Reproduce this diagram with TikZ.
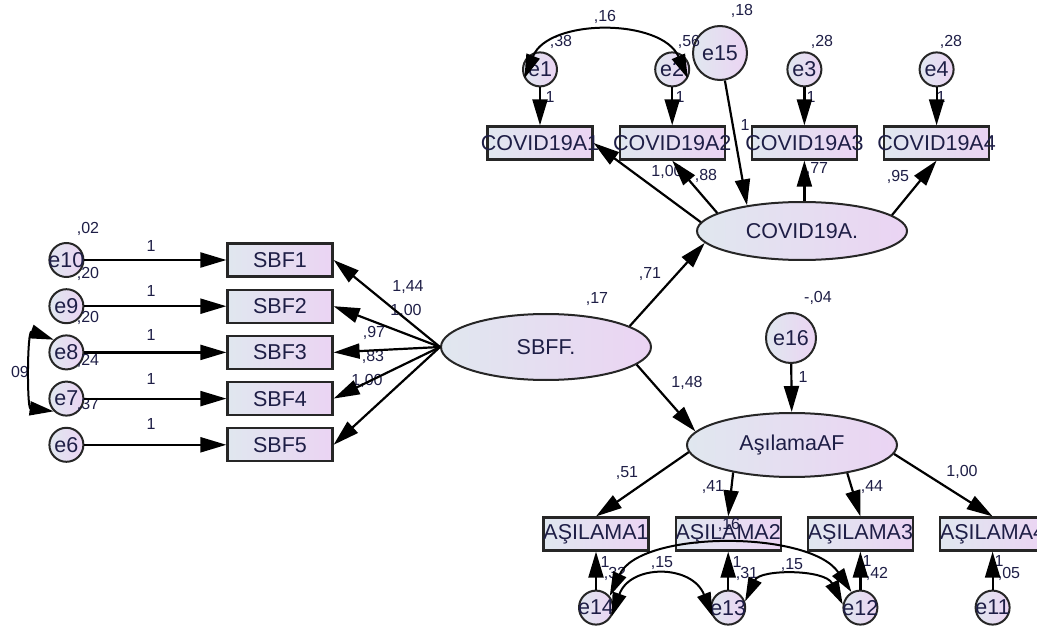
\documentclass[tikz,border=0pt]{standalone}
\usepackage{fontspec}
\setmainfont{Liberation Sans}
\usetikzlibrary{positioning,shapes.geometric,arrows.meta}

\definecolor{gradl}{RGB}{224,231,239}
\definecolor{gradr}{RGB}{235,212,243}
\definecolor{ink}{RGB}{30,30,70}
\newcommand{\semfont}{\fontsize{21.5}{24}\selectfont}
\newcommand{\estfont}{\fontsize{16}{18}\selectfont}
\newcommand{\ctr}[1]{\makebox[0pt]{#1}}

\begin{document}
\begin{tikzpicture}[x=1pt, y=-1pt,
    obs/.style={rectangle, draw=black!85, line width=2.2pt, left color=gradl, right color=gradr,
        minimum width=105pt, minimum height=33pt, inner sep=0pt, text=ink, font=\semfont},
    lat/.style={ellipse, draw=black!85, line width=2pt, left color=gradl, right color=gradr,
        minimum width=210pt, inner sep=0pt, text=ink, font=\semfont},
    err/.style={circle, draw=black!85, line width=2pt, left color=gradl, right color=gradr,
        minimum size=34pt, inner sep=0pt, text=ink, font=\semfont},
    est/.style={inner sep=0pt, text=ink, font=\estfont},
    reg/.style={-{Triangle[length=26pt,width=15pt]}, line width=2.2pt},
    cor/.style={{Triangle[length=24pt,width=14pt]}-{Triangle[length=24pt,width=14pt]}, line width=2pt}
]
    \useasboundingbox (0,0) rectangle (1037,631);

    % Latent variables
    \node[lat, minimum height=66pt] (sbff) at (546,347) {SBFF.};
    \node[lat, minimum height=58pt] (covid) at (802,231) {COVID19A.};
    \node[lat, minimum height=64pt] (asil) at (792,445) {AşılamaAF};

    % COVID19A indicators
    \node[obs] (cv1) at (540,143) {\ctr{COVID19A1}};
    \node[obs, right=25pt of cv1] (cv2) {\ctr{COVID19A2}};
    \node[obs, right=25pt of cv2] (cv3) {\ctr{COVID19A3}};
    \node[obs, right=25pt of cv3] (cv4) {\ctr{COVID19A4}};

    \node[err, above=38pt of cv1] (e1) {e1};
    \node[err, above=38pt of cv2] (e2) {e2};
    \node[err, above=38pt of cv3] (e3) {e3};
    \node[err, above=38pt of cv4] (e4) {e4};
    \node[err, minimum size=54pt] (e15) at (720,53) {\ctr{e15}};

    % SBFF indicators
    \node[obs] (sbf1) at (280,260) {SBF1};
    \node[obs, below=11pt of sbf1] (sbf2) {SBF2};
    \node[obs, below=11pt of sbf2] (sbf3) {SBF3};
    \node[obs, below=11pt of sbf3] (sbf4) {SBF4};
    \node[obs, below=11pt of sbf4] (sbf5) {SBF5};

    \node[err, left=142pt of sbf1] (e10) {\ctr{e10}};
    \node[err, left=142pt of sbf2] (e9) {e9};
    \node[err, left=142pt of sbf3] (e8) {e8};
    \node[err, left=142pt of sbf4] (e7) {e7};
    \node[err, left=142pt of sbf5] (e6) {e6};

    % AsilamaAF indicators
    \node[obs] (as1) at (596,534) {\ctr{AŞILAMA1}};
    \node[obs, right=25pt of as1] (as2) {\ctr{AŞILAMA2}};
    \node[obs, right=25pt of as2] (as3) {\ctr{AŞILAMA3}};
    \node[obs, right=25pt of as3] (as4) {\ctr{AŞILAMA4}};

    \node[err, below=38pt of as1] (e14) {\ctr{e14}};
    \node[err, below=38pt of as2] (e13) {\ctr{e13}};
    \node[err, below=38pt of as3] (e12) {\ctr{e12}};
    \node[err, below=38pt of as4] (e11) {\ctr{e11}};
    \node[err, minimum size=50pt] (e16) at (791,338) {\ctr{e16}};

    % Estimates, COVID19A part
    \node[est] (ve1) at (561,42) {,38};
    \node[est] (ve2) at (689,42) {,56};
    \node[est] (ve3) at (822,42) {,28};
    \node[est] (ve4) at (951,42) {,28};
    \node[est] (ve15) at (742,11) {,18};
    \node[est] (ce12) at (605,17) {,16};
    \node[est] (w1) at (550,97) {1};
    \node[est] (w2) at (680,97) {1};
    \node[est] (w3) at (811,97) {1};
    \node[est] (w4) at (941,97) {1};
    \node[est] (w15) at (745,125) {1};
    \node[est] (lcv1) at (667,172) {1,00};
    \node[est] (lcv2) at (706,176) {,88};
    \node[est] (lcv3) at (817,169) {,77};
    \node[est] (lcv4) at (898,177) {,95};

    % Estimates, SBFF part
    \node[est] (vsbff) at (597,299) {,17};
    \node[est] (lcov) at (650,274) {,71};
    \node[est] (lasil) at (687,383) {1,48};
    \node[est] (ve10) at (88,229) {,02};
    \node[est] (ve9) at (88,274) {,20};
    \node[est] (ve8) at (88,318) {,20};
    \node[est] (ve7) at (88,361) {,24};
    \node[est] (ve6) at (88,405) {,37};
    \node[est] (w10) at (151,246) {1};
    \node[est] (w9) at (151,291) {1};
    \node[est] (w8) at (151,335) {1};
    \node[est] (w7) at (151,379) {1};
    \node[est] (w6) at (151,424) {1};
    \node[est] (ce78) at (20,372) {09};
    \node[est] (lsbf1) at (408,287) {1,44};
    \node[est] (lsbf2) at (406,311) {1,00};
    \node[est] (lsbf3) at (374,333) {,97};
    \node[est] (lsbf4) at (373,357) {,83};
    \node[est] (lsbf5) at (367,381) {1,00};

    % Estimates, AsilamaAF part
    \node[est] (ve16) at (818,298) {-,04};
    \node[est] (w16) at (803,377) {1};
    \node[est] (las1) at (627,473) {,51};
    \node[est] (las2) at (713,487) {,41};
    \node[est] (las3) at (872,487) {,44};
    \node[est] (las4) at (962,472) {1,00};
    \node[est] (w14) at (605,562) {1};
    \node[est] (w13) at (737,562) {1};
    \node[est] (w12) at (867,561) {1};
    \node[est] (w11) at (999,561) {1};
    \node[est] (ve14) at (615,574) {,32};
    \node[est] (ve13) at (747,574) {,31};
    \node[est] (ve12) at (877,574) {,42};
    \node[est] (ve11) at (1009,574) {,05};
    \node[est] (ce1413) at (662,563) {,15};
    \node[est] (ce1312) at (792,565) {,15};
    \node[est] (ce1412) at (729,525) {,16};

    % Paths
    \draw[reg] (e1) -- (cv1);
    \draw[reg] (e2) -- (cv2);
    \draw[reg] (e3) -- (cv3);
    \draw[reg] (e4) -- (cv4);
    \draw[reg] (e15) -- (covid.155);
    \draw[reg] (covid.175) -- (cv1.east);
    \draw[reg] (covid.168) -- (cv2.south);
    \draw[reg] (cv3.south |- covid.north) -- (cv3.south);
    \draw[reg] (covid.10) -- (cv4.south);

    \draw[reg] (e10) -- (sbf1);
    \draw[reg] (e9) -- (sbf2);
    \draw[reg] (e8) -- (sbf3);
    \draw[reg] (e7) -- (sbf4);
    \draw[reg] (e6) -- (sbf5);
    \draw[reg] (sbff.west) -- (sbf1.east);
    \draw[reg] (sbff.west) -- (sbf2.east);
    \draw[reg] (sbff.west) -- (sbf3.east);
    \draw[reg] (sbff.west) -- (sbf4.east);
    \draw[reg] (sbff.west) -- (sbf5.east);
    \draw[reg] (sbff.14) -- (covid.187);
    \draw[reg] (sbff.-11) -- (asil.172);

    \draw[reg] (e16) -- (asil);
    \draw[reg] (asil.184) -- (as1.north);
    \draw[reg] (asil.205) -- (as2.north);
    \draw[reg] (asil.-27) -- (as3.north);
    \draw[reg] (asil.-5) -- (as4.north);
    \draw[reg] (e14) -- (as1);
    \draw[reg] (e13) -- (as2);
    \draw[reg] (e12) -- (as3);
    \draw[reg] (e11) -- (as4);

    % Covariances
    \draw[cor] (e1.210) .. controls (548,18) and (662,18) .. (e2.330);
    \draw[cor] (e8.135) .. controls (27,330) and (27,408) .. (e7.225);
    \draw[cor] (e14.330) .. controls (630,564) and (692,564) .. (e13.210);
    \draw[cor] (e13.20) .. controls (760,569) and (825,569) .. (e12.170);
    \draw[cor] (e14.40) .. controls (640,530) and (810,530) .. (e12.120);
\end{tikzpicture}
\end{document}
